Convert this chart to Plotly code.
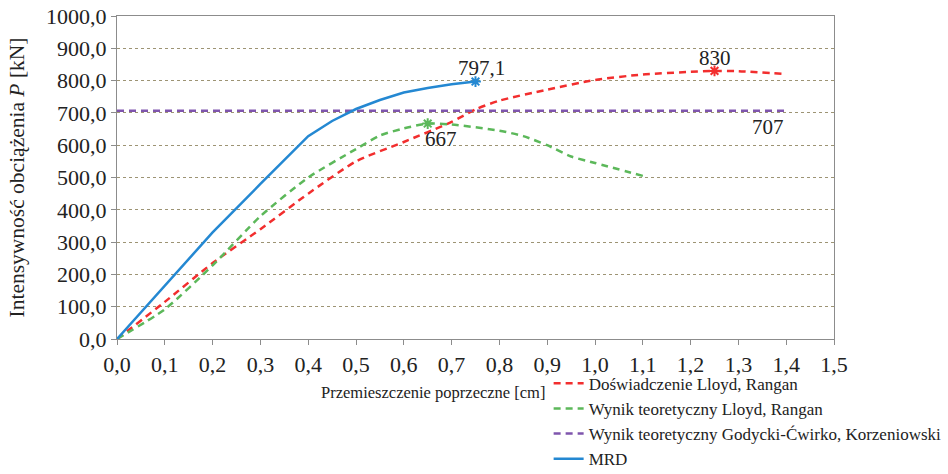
import plotly.graph_objects as go

# Przemieszczenie poprzeczne [cm] i intensywność obciążenia [kN]
dosw_x = [0.0, 0.1, 0.2, 0.3, 0.4, 0.5, 0.6, 0.7, 0.75, 0.8, 0.9, 1.0, 1.1, 1.2, 1.25, 1.3, 1.4]
dosw_y = [0.0, 115, 235, 340, 450, 550, 610, 672, 711, 738, 772, 802, 819, 827, 830, 829, 820]

teor_x = [0.0, 0.1, 0.2, 0.3, 0.4, 0.5, 0.55, 0.6, 0.65, 0.7, 0.8, 0.85, 0.9, 0.95, 1.0, 1.1]
teor_y = [0.0, 92, 228, 380, 500, 588, 630, 652, 667, 664, 645, 628, 600, 565, 545, 505]

godycki_x = [0.0, 1.4]
godycki_y = [707, 707]

mrd_x = [0.0, 0.1, 0.2, 0.3, 0.4, 0.45, 0.5, 0.55, 0.6, 0.65, 0.7, 0.75]
mrd_y = [0.0, 165, 330, 480, 628, 675, 712, 740, 763, 777, 789, 797.1]

x_ticks = [i / 10 for i in range(16)]
x_ticktext = ["0,0", "0,1", "0,2", "0,3", "0,4", "0,5", "0,6", "0,7", "0,8", "0,9",
              "1,0", "1,1", "1,2", "1,3", "1,4", "1,5"]
y_ticks = [0, 100, 200, 300, 400, 500, 600, 700, 800, 900, 1000]
y_ticktext = ["0,0", "100,0", "200,0", "300,0", "400,0", "500,0", "600,0", "700,0",
              "800,0", "900,0", "1000,0"]

RED = "#f22e2e"
GREEN = "#5cb85a"
PURPLE = "#7f55ad"
BLUE = "#2488d2"
FONT = "Liberation Serif"
TXT = "#222222"

fig = go.Figure()

fig.add_trace(go.Scatter(x=dosw_x, y=dosw_y, mode="lines", name="Doświadczenie Lloyd, Rangan",
                         line=dict(color=RED, width=2.5, dash="7px,5px", shape="spline", smoothing=0.6)))
fig.add_trace(go.Scatter(x=teor_x, y=teor_y, mode="lines", name="Wynik teoretyczny Lloyd, Rangan",
                         line=dict(color=GREEN, width=2.5, dash="7px,5px", shape="spline", smoothing=0.6)))
fig.add_trace(go.Scatter(x=godycki_x, y=godycki_y, mode="lines",
                         name="Wynik teoretyczny Godycki-Ćwirko, Korzeniowski",
                         line=dict(color=PURPLE, width=2.5, dash="7px,5px")))
fig.add_trace(go.Scatter(x=mrd_x, y=mrd_y, mode="lines", name="MRD",
                         line=dict(color=BLUE, width=2.5)))


# Punkty szczytowe oznaczone gwiazdką
def peak(xs, ys):
    i = max(range(len(ys)), key=lambda k: ys[k])
    return xs[i], ys[i]


for xs, ys, col in [(dosw_x, dosw_y, RED), (teor_x, teor_y, GREEN), (mrd_x, mrd_y, BLUE)]:
    px, py = peak(xs, ys)
    fig.add_trace(go.Scatter(x=[px], y=[py], mode="markers", showlegend=False,
                             marker=dict(symbol="asterisk-open", size=9, color=col,
                                         line=dict(color=col, width=2))))


def fmt(v):
    s = f"{v:.1f}".rstrip("0").rstrip(".")
    return s.replace(".", ",")


ann_font = dict(family=FONT, size=21, color=TXT)
px, py = peak(mrd_x, mrd_y)
fig.add_annotation(x=px, y=py, text=fmt(py), showarrow=False, yshift=14, xshift=6, font=ann_font)
px, py = peak(teor_x, teor_y)
fig.add_annotation(x=px, y=py, text=fmt(py), showarrow=False, yshift=-15, xshift=13, font=ann_font)
px, py = peak(dosw_x, dosw_y)
fig.add_annotation(x=px, y=py, text=fmt(py), showarrow=False, yshift=13, font=ann_font)
fig.add_annotation(x=godycki_x[-1], y=godycki_y[0], text=fmt(godycki_y[0]), showarrow=False,
                   yshift=-16, xshift=-18, font=ann_font)

fig.add_annotation(xref="paper", yref="paper", x=0.441, y=-0.167, yanchor="middle",
                   text="Przemieszczenie poprzeczne [cm]",
                   showarrow=False, font=dict(family=FONT, size=16.5, color=TXT))

fig.update_layout(
    width=948, height=474,
    margin=dict(l=117, r=114, t=16, b=135, autoexpand=False),
    paper_bgcolor="white", plot_bgcolor="white",
    font=dict(family=FONT, color=TXT),
    showlegend=True,
    legend=dict(x=0.602, y=-0.083, xanchor="left", yanchor="top",
                font=dict(family=FONT, size=17, color=TXT),
                bgcolor="rgba(0,0,0,0)", tracegroupgap=0, itemwidth=30),
)

fig.update_xaxes(range=[0, 1.5], tickvals=x_ticks, ticktext=x_ticktext,
                 tickfont=dict(family=FONT, size=22, color=TXT),
                 showgrid=False, showline=True, linecolor="#8c8c8c", linewidth=1.2, mirror=True,
                 ticks="outside", ticklen=5, tickcolor="#8c8c8c", zeroline=False)
fig.update_yaxes(range=[0, 1000], tickvals=y_ticks, ticktext=y_ticktext,
                 tickfont=dict(family=FONT, size=22, color=TXT),
                 showgrid=True, gridcolor="#9d9474", griddash="dot", gridwidth=1,
                 showline=True, linecolor="#8c8c8c", linewidth=1.2, mirror=True,
                 ticks="outside", ticklen=5, tickcolor="#8c8c8c", zeroline=False,
                 title=dict(text="Intensywność obciążenia <i>P</i> [kN]",
                            font=dict(family=FONT, size=21.5, color=TXT), standoff=15))

fig.write_html("out.html")
